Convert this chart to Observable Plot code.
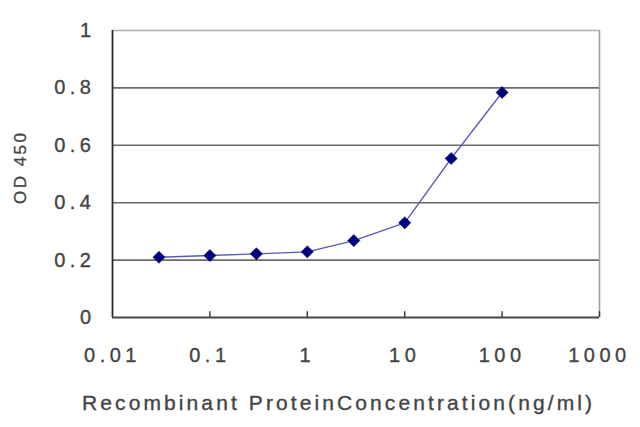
<!DOCTYPE html>
<html><head><meta charset="utf-8">
<script src="https://cdn.jsdelivr.net/npm/d3@7"></script>
<script src="https://cdn.jsdelivr.net/npm/@observablehq/plot@0.6"></script>
<style>body{margin:0;background:#fff;}svg{display:block;}</style>
</head><body><div id="chart"></div>
<script>
const concentrations = [0.03, 0.1, 0.3, 1, 3, 10, 30, 100];
const od450 = [0.210, 0.216, 0.222, 0.229, 0.268, 0.330, 0.554, 0.784];
const xTicks = [0.01, 0.1, 1, 10, 100, 1000];
const xTickLabels = ["0.01", "0.1", "1", "10", "100", "1000"];
const yTicks = [0, 0.2, 0.4, 0.6, 0.8, 1];
const yTickLabels = ["0", "0.2", "0.4", "0.6", "0.8", "1"];
const gridLevels = [0.2, 0.4, 0.6, 0.8];
const yTitle = "OD 450";
const xTitle = "Recombinant ProteinConcentration(ng/ml)";

const data = concentrations.map((c, i) => ({c, v: od450[i]}));
const font = "Liberation Sans, Arial, sans-serif";

const chart = Plot.plot({
  width: 640, height: 427,
  marginLeft: 112, marginRight: 41, marginTop: 30, marginBottom: 110,
  style: {fontFamily: font, fontSize: "19px", color: "#444", background: "#fff"},
  x: {type: "log", domain: [0.01, 1000]},
  y: {domain: [0, 1]},
  marks: [
    Plot.ruleY(gridLevels, {stroke: "#6a6a6a", strokeWidth: 1.6}),
    Plot.ruleY([1], {stroke: "#b0b0b0", strokeWidth: 1.6}),
    Plot.ruleX([1000], {stroke: "#a0a0a0", strokeWidth: 1.6}),
    Plot.ruleX(xTicks.slice(1), {y1: 0, y2: 0.02, stroke: "#333", strokeWidth: 1.4}),
    Plot.ruleX([0.01], {stroke: "#2a2a2a", strokeWidth: 1.8}),
    Plot.ruleY([0], {stroke: "#444", strokeWidth: 1.8}),
    Plot.axisY({ticks: yTicks, tickFormat: (d) => yTickLabels[yTicks.indexOf(d)], tickSize: 0, tickPadding: 17, label: null, fill: "#444"}),
    Plot.axisX({ticks: xTicks, tickFormat: (d) => xTickLabels[xTicks.indexOf(d)], tickSize: 0, tickPadding: 30, label: null, fill: "#444"}),
    Plot.line(data, {x: "c", y: "v", stroke: "#5a5ab8", strokeWidth: 1.3}),
    Plot.dot(data, {x: "c", y: "v", symbol: "diamond2", r: 5.5, fill: "#00007d", stroke: "#00007d", strokeWidth: 0.5}),
    Plot.text([yTitle], {frameAnchor: "left", dx: -92, dy: 30, rotate: -90, fill: "#444"}),
    Plot.text([xTitle], {frameAnchor: "bottom", dy: 92, dx: -19, fill: "#444"})
  ]
});
const svg = d3.select(chart);
svg.selectAll("g[aria-label='y-axis tick label'] text, g[aria-label='x-axis tick label'] text")
  .style("font-size", "20px").style("letter-spacing", "4.5px")
  .attr("stroke", "#444").attr("stroke-width", 0.35);
svg.selectAll("g[aria-label='text'] text").each(function() {
  const t = d3.select(this);
  t.attr("stroke", "#444").attr("stroke-width", 0.35);
  if (t.text() === xTitle) t.style("font-size", "21px").attr("textLength", 510).attr("lengthAdjust", "spacing");
  if (t.text() === yTitle) t.style("font-size", "17px").attr("textLength", 71).attr("lengthAdjust", "spacing");
});
document.getElementById("chart").appendChild(chart);
</script>
</body></html>
